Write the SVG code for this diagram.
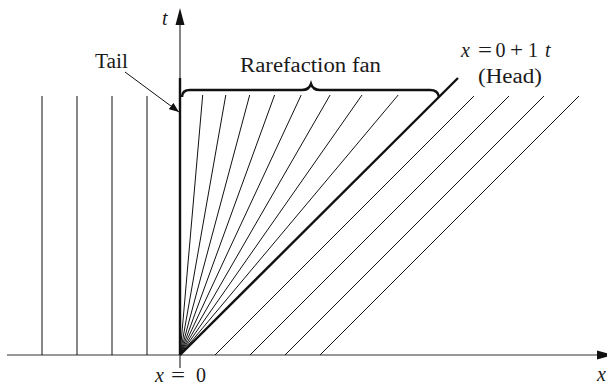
<svg xmlns="http://www.w3.org/2000/svg" width="607" height="385" viewBox="0 0 607 385">
<style>
text{font-family:"Liberation Serif","Times New Roman",serif;font-size:20px;fill:#1a1a1a}
.it{font-style:italic}
.thin{stroke:#111;stroke-width:1;fill:none}
.axis{stroke:#333;stroke-width:1.2;fill:none}
.thick{stroke:#111;stroke-width:2.4;fill:none}
</style>
<defs>
<marker id="ah" markerWidth="10" markerHeight="8" refX="10" refY="4" orient="auto" markerUnits="userSpaceOnUse">
<path d="M0,0 L10,4 L0,8 Z" fill="#111"/>
</marker>
</defs>
<rect width="607" height="385" fill="#fff"/>
<g id="axes">
<line class="axis" x1="7" y1="355" x2="598" y2="355"/>
<polygon points="597,350.5 614,355 597,359.5" fill="#111"/>
<line class="axis" x1="180" y1="368" x2="180" y2="24"/>
<polygon points="175.5,25 180,8 184.5,25" fill="#111"/>
<text x="162" y="25" class="it">t</text>
<text x="597" y="381" class="it">x</text>
<text y="382"><tspan x="155" class="it">x</tspan><tspan x="171" textLength="14" lengthAdjust="spacingAndGlyphs">=</tspan><tspan x="196">0</tspan></text>
</g>
<g id="left-characteristics">
<line class="thin" x1="42" y1="96" x2="42" y2="355"/>
<line class="thin" x1="77" y1="96" x2="77" y2="355"/>
<line class="thin" x1="112" y1="96" x2="112" y2="355"/>
<line class="thin" x1="147" y1="96" x2="147" y2="355"/>
</g>
<g id="fan">
<line class="thin" x1="180" y1="355" x2="202.7" y2="95"/>
<line class="thin" x1="180" y1="355" x2="225.8" y2="95"/>
<line class="thin" x1="180" y1="355" x2="249.7" y2="95"/>
<line class="thin" x1="180" y1="355" x2="274.6" y2="95"/>
<line class="thin" x1="180" y1="355" x2="301.2" y2="95"/>
<line class="thin" x1="180" y1="355" x2="330.1" y2="95"/>
<line class="thin" x1="180" y1="355" x2="362" y2="95"/>
<line class="thin" x1="180" y1="355" x2="398.2" y2="95"/>
</g>
<g id="tail">
<line class="thick" x1="180" y1="78" x2="180" y2="355"/>
<text x="95" y="68" textLength="33" lengthAdjust="spacingAndGlyphs">Tail</text>
</g>
<g id="head">
<line class="thick" x1="180" y1="355" x2="458" y2="78"/>
<text y="57"><tspan x="461" class="it">x</tspan><tspan x="478" textLength="14" lengthAdjust="spacingAndGlyphs">=</tspan><tspan x="495.5">0</tspan><tspan x="510" textLength="13" lengthAdjust="spacingAndGlyphs">+</tspan><tspan x="528">1</tspan><tspan x="545" class="it">t</tspan></text>
<text x="478" y="83" textLength="64" lengthAdjust="spacingAndGlyphs">(Head)</text>
</g>
<g id="right-characteristics">
<line class="thin" x1="215" y1="355" x2="474" y2="96"/>
<line class="thin" x1="250" y1="355" x2="509" y2="96"/>
<line class="thin" x1="285" y1="355" x2="544" y2="96"/>
<line class="thin" x1="320" y1="355" x2="579" y2="96"/>
</g>
<g id="fan-label">
<path d="M182,97 Q182,90 190,90 L302,90 Q309,90 311,84 Q313,90 320,90 L430,90 Q438,90 439,97" stroke="#111" stroke-width="2.5" fill="none"/>
<text x="240" y="72" textLength="141" lengthAdjust="spacingAndGlyphs">Rarefaction fan</text>
</g>
<g id="connectors">
<line class="thin" x1="125" y1="72" x2="179" y2="112" marker-end="url(#ah)"/>
</g>
</svg>
